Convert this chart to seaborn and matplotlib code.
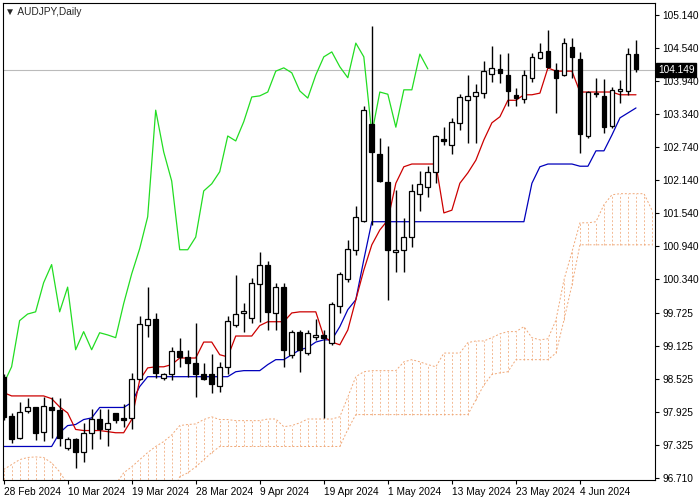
import matplotlib
matplotlib.use("Agg")
import matplotlib.pyplot as plt
import numpy as np
import pandas as pd
import seaborn as sns

# OHLC (daily bars)
opens = [98.56, 97.85, 97.45, 97.94, 98.00, 97.56, 98.01, 97.96, 97.27, 97.43,
         97.19, 97.54, 97.79, 97.61, 97.90, 97.81, 97.81, 98.52, 99.50, 99.61,
         98.54, 98.61, 99.03, 98.92, 98.80, 98.61, 98.61, 98.39, 98.74, 99.50,
         99.72, 99.63, 100.25, 100.60, 99.72, 100.19, 98.96, 99.38, 98.99, 99.29,
         99.32, 99.18, 99.85, 100.34, 100.87, 101.39, 103.16, 102.61, 102.10, 100.83,
         100.87, 101.10, 101.89, 102.01, 102.29, 102.89, 102.78, 103.18, 103.59, 103.67,
         103.72, 104.07, 104.16, 104.05, 103.69, 103.61, 104.00, 104.36, 104.49, 104.14,
         104.05, 104.56, 104.34, 102.94, 103.72, 103.67, 103.12, 103.76, 103.76, 104.43]
highs = [98.60, 97.90, 98.10, 98.18, 98.01, 98.19, 98.19, 98.18, 97.47, 97.45,
         97.72, 97.98, 97.98, 97.98, 97.90, 98.07, 98.63, 99.67, 100.19, 99.72,
         98.63, 99.10, 99.27, 99.05, 99.54, 98.81, 98.98, 98.83, 99.67, 100.41,
         99.90, 100.36, 100.83, 100.67, 100.27, 100.27, 99.41, 99.41, 99.41, 99.61,
         99.41, 99.92, 100.47, 101.05, 101.67, 103.49, 104.94, 102.90, 102.76, 101.96,
         101.45, 102.07, 102.30, 102.39, 102.96, 103.10, 103.27, 103.70, 104.05, 103.89,
         104.30, 104.58, 104.43, 104.45, 103.81, 104.14, 104.45, 104.63, 104.87, 104.27,
         104.72, 104.72, 104.47, 103.76, 104.00, 103.98, 103.83, 103.96, 104.54, 104.69]
lows = [97.78, 97.36, 97.43, 97.90, 97.41, 97.39, 97.45, 97.29, 97.23, 96.90,
        97.01, 97.25, 97.43, 97.29, 97.72, 97.65, 97.60, 98.50, 99.29, 98.54,
        98.50, 98.50, 98.74, 98.56, 98.19, 98.50, 98.27, 98.28, 98.60, 99.47,
        99.38, 99.54, 99.56, 99.41, 99.41, 98.74, 98.90, 98.65, 98.96, 99.23,
        97.81, 99.14, 99.72, 100.28, 100.78, 101.38, 101.32, 102.10, 99.96, 100.47,
        100.47, 100.92, 101.58, 101.83, 102.08, 102.78, 102.61, 103.05, 102.81, 102.81,
        103.63, 103.92, 103.90, 103.49, 103.49, 103.54, 103.92, 104.34, 104.18, 103.36,
        104.03, 104.00, 102.63, 102.90, 103.65, 103.00, 103.09, 103.54, 103.69, 104.10]
closes = [97.83, 97.43, 97.92, 98.01, 97.54, 98.03, 97.96, 97.45, 97.43, 97.19,
          97.54, 97.79, 97.61, 97.72, 97.78, 97.78, 98.52, 99.52, 99.61, 98.63,
          98.61, 99.03, 98.92, 98.80, 98.61, 98.52, 98.43, 98.74, 99.58, 99.70,
          99.74, 100.27, 100.60, 99.74, 100.19, 99.05, 99.38, 99.05, 99.36, 99.32,
          99.27, 99.89, 100.43, 100.89, 101.47, 103.41, 102.65, 102.12, 100.87, 100.87,
          101.10, 101.94, 102.07, 102.29, 102.94, 102.85, 103.20, 103.65, 103.67, 103.74,
          104.12, 104.18, 104.09, 103.76, 103.63, 104.05, 104.38, 104.47, 104.20, 104.00,
          104.63, 104.38, 102.98, 103.74, 103.70, 103.10, 103.78, 103.78, 104.43, 104.16]

tenkan = [98.27, 98.21, 98.21, 98.21, 98.21, 98.21, 98.16, 98.01, 97.90, 97.60,
          97.58, 97.58, 97.58, 97.56, 97.54, 97.54, 97.78, 98.50, 98.72, 98.74,
          98.74, 98.78, 98.90, 98.90, 98.90, 99.19, 99.19, 98.96, 98.92, 99.30,
          99.30, 99.30, 99.49, 99.56, 99.56, 99.56, 99.72, 99.74, 99.74, 99.74,
          99.29, 99.19, 99.14, 99.41, 99.96, 100.50, 100.96, 101.23, 101.41, 102.08,
          102.38, 102.43, 102.43, 102.43, 102.43, 101.54, 101.59, 102.08, 102.27, 102.50,
          102.87, 103.18, 103.29, 103.59, 103.59, 103.69, 103.69, 103.72, 104.18, 104.12,
          104.12, 104.12, 103.74, 103.74, 103.74, 103.74, 103.74, 103.69, 103.69, 103.69]
kijun = [97.29] * 7 + [97.54, 97.67, 97.69, 97.78, 97.81, 98.00, 98.00, 98.00, 98.00,
         98.09, 98.38] + [98.56] * 11 + [98.65, 98.67, 98.67, 98.67, 98.78, 98.87, 98.87,
         98.96, 99.05, 99.09, 99.19, 99.23, 99.23, 99.47, 99.78, 99.96, 100.69] + \
        [101.38] * 20 + [102.08, 102.38, 102.43, 102.43, 102.43, 102.43, 102.39, 102.39,
         102.67, 102.67, 102.96, 103.27, 103.36, 103.45]
span_top = [96.87, 96.96, 97.05, 97.09, 97.10, 97.09, 96.99, 96.83, 96.60, 96.60,
            96.60, 96.60, 96.60, 96.60, 96.60, 96.81, 96.92, 97.05, 97.18, 97.29,
            97.38, 97.50, 97.67, 97.69, 97.70, 97.78, 97.83, 97.78, 97.78, 97.76,
            97.76, 97.76, 97.76, 97.79, 97.79, 97.65, 97.67, 97.72, 97.79, 97.79,
            97.79, 97.79, 97.83, 98.19, 98.56, 98.65, 98.67, 98.67, 98.67, 98.67,
            98.83, 98.87, 98.83, 98.78, 98.74, 98.99, 98.99, 98.99, 99.18, 99.21,
            99.21, 99.27, 99.34, 99.38, 99.38, 99.47, 99.27, 99.23, 99.25, 99.59,
            100.32, 100.83, 101.36, 101.36, 101.38, 101.69, 101.87, 101.89, 101.89, 101.89,
            101.89, 101.59]
span_bottom = [96.41] * 22 + [96.74, 96.81, 96.92, 97.05, 97.18] + [97.29] * 16 + \
              [97.60] + [97.87] * 15 + [98.14, 98.41, 98.60, 98.63, 98.65] + \
              [98.87] * 5 + [98.99, 99.59, 100.23] + [100.96] * 10

date_labels = ["28 Feb 2024", "10 Mar 2024", "19 Mar 2024", "28 Mar 2024", "9 Apr 2024",
               "19 Apr 2024", "1 May 2024", "13 May 2024", "23 May 2024", "4 Jun 2024"]
price_ticks = [105.140, 104.540, 103.940, 103.340, 102.740, 102.140, 101.540, 100.940,
               100.340, 99.725, 99.125, 98.525, 97.925, 97.325, 96.710]
last_price = 104.149

df = pd.DataFrame({"open": opens, "high": highs, "low": lows, "close": closes,
                   "tenkan": tenkan, "kijun": kijun})
df["bar"] = np.arange(len(df))
df["chikou"] = df["close"].shift(-26)
cloud = pd.DataFrame({"top": span_top, "bottom": span_bottom})
cloud["bar"] = np.arange(len(cloud))

sns.set_style("white")
plt.rcParams["font.family"] = ["Liberation Sans", "DejaVu Sans"]

fig = plt.figure(figsize=(7, 5), dpi=100)
ax = fig.add_axes([0.004, 0.04, 0.932, 0.954])

# cloud: vertical dashed hatch plus dashed edges
cloud_col = "#f0a878"
ax.vlines(cloud["bar"], cloud["bottom"], cloud["top"], colors=cloud_col,
          linestyles=(0, (2, 2)), linewidth=0.7, alpha=0.8)
ax.plot(cloud["bar"], cloud["top"], color=cloud_col, ls=(0, (2, 2)), lw=0.7)
ax.plot(cloud["bar"], cloud["bottom"], color=cloud_col, ls=(0, (2, 2)), lw=0.7)

sns.lineplot(data=df, x="bar", y="chikou", color="#22dd22", lw=0.9, ax=ax)
sns.lineplot(data=df, x="bar", y="kijun", color="#0000bb", lw=0.9, ax=ax)
sns.lineplot(data=df, x="bar", y="tenkan", color="#cc0000", lw=0.9, ax=ax)

# candles
ax.vlines(df["bar"], df["low"], df["high"], colors="black", linewidth=1, zorder=3)
up = df["close"] >= df["open"]
body = (df["close"] - df["open"]).abs().clip(lower=0.03)
base = df[["open", "close"]].min(axis=1)
ax.bar(df["bar"][up], body[up], bottom=base[up], width=0.6, color="white",
       edgecolor="black", linewidth=0.9, zorder=4)
ax.bar(df["bar"][~up], body[~up], bottom=base[~up], width=0.6, color="black",
       edgecolor="black", linewidth=0.9, zorder=4)

ax.axhline(last_price, color="#bbbbbb", lw=0.8, zorder=1)

ax.set_xlim(-0.1, 81.4)
ax.set_ylim(96.68, 105.36)
ax.set_xlabel("")
ax.set_ylabel("")
ax.yaxis.tick_right()
ax.set_yticks(price_ticks)
ax.set_yticklabels([f"{p:.3f}" for p in price_ticks], fontsize=7.3)
ax.set_xticks(np.arange(0, 80, 8))
ax.set_xticklabels(date_labels, fontsize=7.3, ha="left")
ax.tick_params(axis="both", length=3, width=0.8, direction="out", pad=2,
               bottom=True, right=True, colors="black")
for s in ax.spines.values():
    s.set_color("black")
    s.set_linewidth(0.8)

ax.text(1.004, last_price, f"{last_price:.3f}", transform=ax.get_yaxis_transform(),
        fontsize=7.3, color="white", va="center", ha="left",
        bbox=dict(boxstyle="square,pad=0.2", fc="black", ec="black"))
ax.text(0.004, 0.992, "\u25bc AUDJPY,Daily", transform=ax.transAxes, fontsize=7.3,
        va="top", ha="left")

fig.savefig("out.png", dpi=100)
